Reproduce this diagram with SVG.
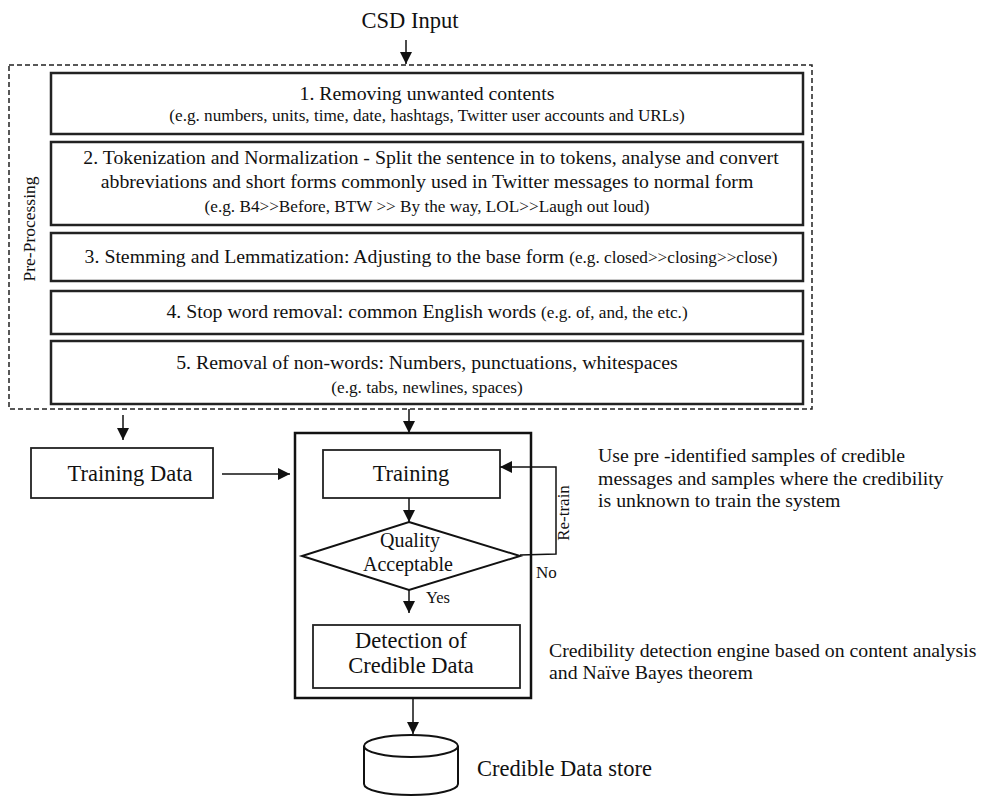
<svg xmlns="http://www.w3.org/2000/svg" width="984" height="804" viewBox="0 0 984 804">
<style>
text{font-family:"Liberation Serif","Times New Roman",serif;fill:#111}
.box{fill:#fff;stroke:#222;stroke-width:2.5}
.thin{fill:#fff;stroke:#222;stroke-width:1.8}
.ln{fill:none;stroke:#111;stroke-width:1.5}
.m{font-size:19.8px}
.s{font-size:17.2px}
.l{font-size:22.5px}
.c{text-anchor:middle}
</style>
<defs>
<marker id="ah" markerWidth="12" markerHeight="14" refX="12" refY="7" orient="auto" markerUnits="userSpaceOnUse">
<path d="M0,1 L12,7 L0,13 Z" fill="#111"/>
</marker>
</defs>
<rect width="984" height="804" fill="#fff"/>

<g id="csd-input"><text class="l c" x="410" y="28">CSD Input</text></g>

<g id="pre-processing">
<rect x="9" y="65" width="803" height="344" fill="none" stroke="#222" stroke-width="1.5" stroke-dasharray="5,3"/>
<text class="c" style="font-size:17.5px" transform="translate(35,229) rotate(-90)">Pre-Processing</text>
</g>

<g id="step1">
<rect class="box" x="51" y="73" width="752" height="61"/>
<text class="m c" x="427" y="100">1. Removing unwanted contents</text>
<text class="s c" x="427" y="121">(e.g. numbers, units, time, date, hashtags, Twitter user accounts and URLs)</text>
</g>
<g id="step2">
<rect class="box" x="51" y="142" width="752" height="83"/>
<text class="m c" x="431" y="164">2. Tokenization and Normalization - Split the sentence in to tokens, analyse and convert</text>
<text class="m c" x="427" y="188">abbreviations and short forms commonly used in Twitter messages to normal form</text>
<text class="s c" x="427" y="212">(e.g. B4&gt;&gt;Before, BTW &gt;&gt; By the way, LOL&gt;&gt;Laugh out loud)</text>
</g>
<g id="step3">
<rect class="box" x="51" y="233" width="752" height="48"/>
<text class="m c" x="431" y="263">3. Stemming and Lemmatization: Adjusting to the base form <tspan class="s">(e.g. closed&gt;&gt;closing&gt;&gt;close)</tspan></text>
</g>
<g id="step4">
<rect class="box" x="51" y="291" width="752" height="43"/>
<text class="m c" x="427" y="318">4. Stop word removal: common English words <tspan class="s">(e.g. of, and, the etc.)</tspan></text>
</g>
<g id="step5">
<rect class="box" x="51" y="341" width="752" height="63"/>
<text class="m c" x="427" y="369">5. Removal of non-words: Numbers, punctuations, whitespaces</text>
<text class="s c" x="427" y="393">(e.g. tabs, newlines, spaces)</text>
</g>

<g id="training-data">
<rect class="thin" x="31" y="448" width="182" height="50"/>
<text class="l c" x="130" y="481">Training Data</text>
</g>

<g id="engine">
<rect x="295" y="433" width="236" height="265" fill="none" stroke="#111" stroke-width="2.5"/>
</g>
<g id="training">
<rect class="thin" x="323" y="450" width="177" height="48"/>
<text class="l c" x="411" y="481">Training</text>
</g>
<g id="quality">
<polygon points="409,522 520,556 409,590 302,556" fill="#fff" stroke="#111" stroke-width="2"/>
<text class="c" x="410" y="547" style="font-size:20px">Quality</text>
<text class="c" x="408" y="571" style="font-size:20px">Acceptable</text>
</g>
<g id="detection">
<rect class="thin" x="313" y="625" width="207" height="63"/>
<text class="l c" x="411" y="648">Detection of</text>
<text class="l c" x="411" y="673">Credible Data</text>
</g>
<g id="store">
<path d="M364,746 L364,784 A47,11 0 0 0 458,784 L458,746" fill="#fff" stroke="#111" stroke-width="2"/>
<ellipse cx="411" cy="746" rx="47" ry="11" fill="#fff" stroke="#111" stroke-width="2"/>
<text class="l" x="477" y="776">Credible Data store</text>
</g>

<g id="notes">
<text class="m" x="598" y="462">Use pre -identified samples of credible</text>
<text class="m" x="598" y="485">messages and samples where the credibility</text>
<text class="m" x="598" y="507">is unknown  to train the system</text>
<text class="m" x="549" y="657">Credibility detection engine based on content analysis</text>
<text class="m" x="549" y="679">and Naïve Bayes theorem</text>
</g>

<g id="connectors">
<line class="ln" x1="406" y1="40" x2="406" y2="64" marker-end="url(#ah)"/>
<line class="ln" x1="123" y1="415" x2="123" y2="440" marker-end="url(#ah)"/>
<line class="ln" x1="409" y1="409" x2="409" y2="433" marker-end="url(#ah)"/>
<line class="ln" x1="222" y1="474" x2="290" y2="474" marker-end="url(#ah)"/>
<line class="ln" x1="409" y1="498" x2="409" y2="522" marker-end="url(#ah)"/>
<polyline class="ln" points="520,555 556,554 556,467 500,467" marker-end="url(#ah)" stroke-width="1.2"/>
<text style="font-size:17px" class="c" transform="translate(569,513) rotate(-90)">Re-train</text>
<text style="font-size:17px" x="536" y="578">No</text>
<line class="ln" x1="409" y1="590" x2="409" y2="613" marker-end="url(#ah)"/>
<text style="font-size:16.5px" x="426" y="603">Yes</text>
<line class="ln" x1="413" y1="698" x2="413" y2="734" marker-end="url(#ah)"/>
</g>
</svg>
